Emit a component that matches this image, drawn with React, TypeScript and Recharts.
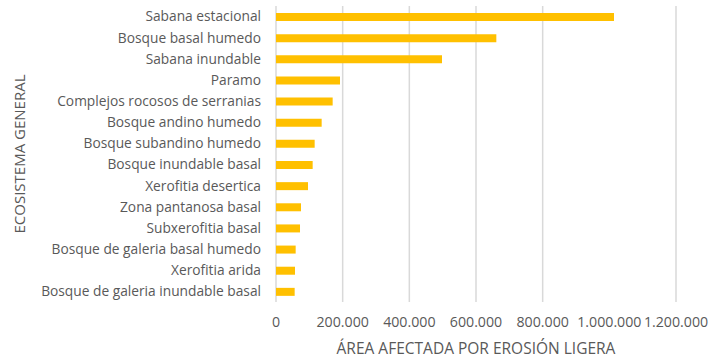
import { BarChart, Bar, XAxis, YAxis, CartesianGrid } from 'recharts'

const ecosistemas = [
  'Sabana estacional',
  'Bosque basal humedo',
  'Sabana inundable',
  'Paramo',
  'Complejos rocosos de serranias',
  'Bosque andino humedo',
  'Bosque subandino humedo',
  'Bosque inundable basal',
  'Xerofitia desertica',
  'Zona pantanosa basal',
  'Subxerofitia basal',
  'Bosque de galeria basal humedo',
  'Xerofitia arida',
  'Bosque de galeria inundable basal'
]

const areaErosionLigera = [
  1014000, 661000, 498000, 192000, 170000, 137000, 116000, 110000, 96000, 75000,
  72000, 59000, 57000, 56000
]

const xTicks = [0, 200000, 400000, 600000, 800000, 1000000, 1200000]

const data = ecosistemas.map((name, i) => ({ name, area: areaErosionLigera[i] }))

const fmt = (v: number) => String(v).replace(/\B(?=(\d{3})+(?!\d))/g, '.')

const font = '"Open Sans", sans-serif'
const grey = '#595959'

export default function App() {
  return (
    <div style={{ position: 'absolute', left: 0, top: 0, fontFamily: font }}>
      <BarChart
        width={711}
        height={359}
        data={data}
        layout="vertical"
        margin={{ top: 6, right: 35, bottom: 0, left: 0 }}
      >
        <CartesianGrid horizontal={false} stroke="#d9d9d9" strokeWidth={1.5} />
        <XAxis
          type="number"
          domain={[0, 1200000]}
          ticks={xTicks}
          tickFormatter={fmt}
          axisLine={false}
          tickLine={false}
          tickSize={0}
          tickMargin={15}
          height={57}
          tick={{ fill: grey, fontSize: 14.2, fontFamily: font }}
          label={{
            value: 'ÁREA AFECTADA POR EROSIÓN LIGERA',
            position: 'insideBottom',
            offset: 5,
            fill: grey,
            fontSize: 15.5,
            fontFamily: font
          }}
        />
        <YAxis
          type="category"
          dataKey="name"
          width={276}
          axisLine={false}
          tickLine={false}
          tickSize={0}
          tickMargin={15}
          interval={0}
          tick={{ fill: grey, fontSize: 13.75, fontFamily: font }}
          label={{
            value: 'ECOSISTEMA GENERAL',
            angle: -90,
            position: 'insideLeft',
            offset: 20,
            style: { textAnchor: 'middle' },
            fill: grey,
            fontSize: 15,
            fontFamily: font
          }}
        />
        <Bar dataKey="area" fill="#ffc000" barSize={8} isAnimationActive={false} />
      </BarChart>
    </div>
  )
}
